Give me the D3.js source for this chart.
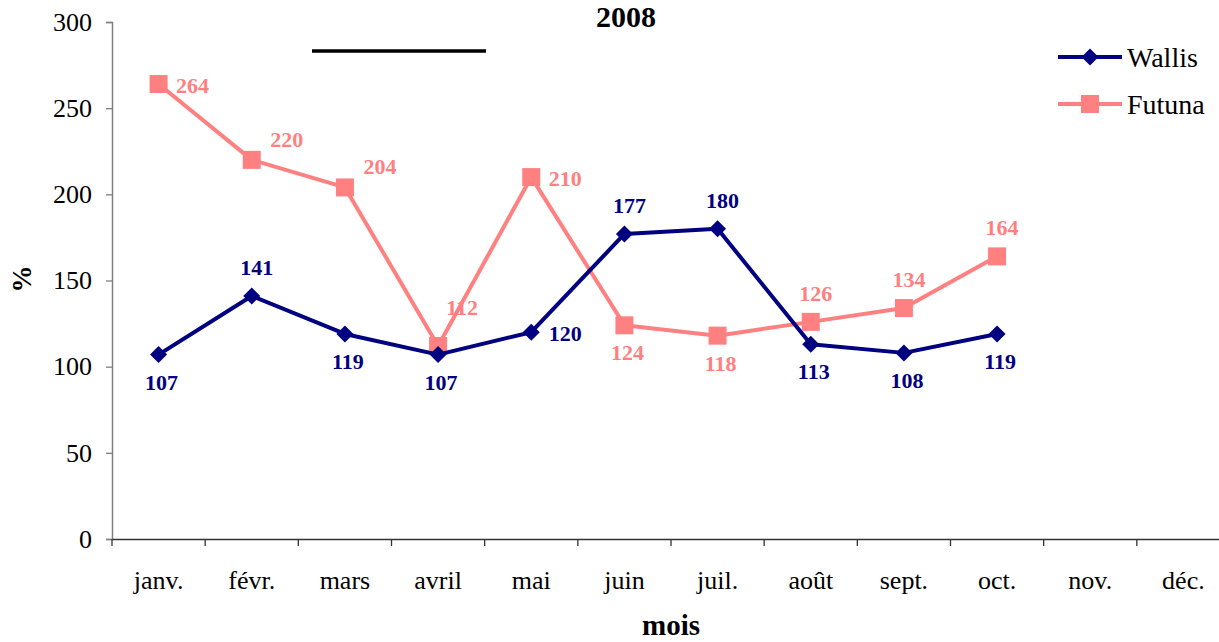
<!DOCTYPE html>
<html><head><meta charset="utf-8">
<script src="https://cdn.jsdelivr.net/npm/d3@7"></script>
<style>body{margin:0;background:#fff;} svg text{font-family:"Liberation Serif","Times New Roman",Times,"DejaVu Serif",serif !important;}</style>
</head><body>
<svg id="c" width="1219" height="642"></svg>
<script>
const months = ["janv.","févr.","mars","avril","mai","juin","juil.","août","sept.","oct.","nov.","déc."];
const wallis = [107,141,119,107,120,177,180,113,108,119];
const futuna = [264,220,204,112,210,124,118,126,134,164];
const wallisLabelPlace = ["below","above","below","below","right","above","above","below","below","below"];
const futunaLabelPlace = ["right","upright","upright","high","right","below","below","above","above","above"];
const yTicks = [0,50,100,150,200,250,300];
const title = "2008";

const FONT = "'Liberation Serif', 'Times New Roman', Times, serif";
const svg = d3.select("#c");
const L = 112, R = 1230, T = 22, B = 539;
const x = d3.scaleBand().domain(months).range([L, R]);
const y = d3.scaleLinear().domain([0,300]).range([B, T]);

// title
svg.append("text").attr("x",626).attr("y",27).attr("text-anchor","middle")
  .attr("font-size",30).attr("font-weight","bold").text(title);
svg.append("line").attr("x1",312).attr("x2",486).attr("y1",51).attr("y2",51)
  .attr("stroke","#000").attr("stroke-width",3.5);

// y axis
const ya = svg.append("g").attr("transform",`translate(${L},0)`)
  .call(d3.axisLeft(y).tickValues(yTicks).tickSize(6).tickPadding(14));
ya.attr("font-family",FONT);
ya.select(".domain").attr("stroke","#7f7f7f").attr("stroke-width",1.5);
ya.selectAll(".tick line").attr("stroke","#7f7f7f").attr("stroke-width",1.3);
ya.selectAll("text").attr("font-size",26).attr("fill","#000");

// x axis
const xa = svg.append("g").attr("transform",`translate(0,${B})`)
  .call(d3.axisBottom(x).tickSize(0).tickSizeOuter(0).tickPadding(32));
xa.attr("font-family",FONT);
xa.select(".domain").attr("stroke","#333").attr("stroke-width",1.3);
xa.selectAll("text").attr("font-size",26).attr("fill","#000");
// category boundary ticks
const bounds = months.map(m => x(m)).concat([x(months[months.length-1]) + x.bandwidth()]);
svg.append("g").selectAll("line").data(bounds).join("line")
  .attr("x1",d=>d).attr("x2",d=>d).attr("y1",B).attr("y2",B+7)
  .attr("stroke","#333").attr("stroke-width",1.3);

// axis titles
svg.append("text").attr("x",671).attr("y",635).attr("text-anchor","middle")
  .attr("font-size",29).attr("font-weight","bold").text("mois");
svg.append("text").attr("transform","translate(31,279) rotate(-90)").attr("text-anchor","middle")
  .attr("font-size",27).attr("font-weight","bold").text("%");

const cx = (i) => x(months[i]) + x.bandwidth()/2;
const WC = "#000080", FC = "#FF8080";
const line = d3.line().x((d,i)=>cx(i)).y(d=>y(d));

function drawSeries(vals, color, marker, places){
  svg.append("path").datum(vals).attr("d",line).attr("fill","none")
    .attr("stroke",color).attr("stroke-width",4).attr("stroke-linejoin","round");
  const g = svg.append("g");
  if (marker === "diamond") {
    g.selectAll("path").data(vals).join("path")
      .attr("d","M0,-8.5L8.5,0L0,8.5L-8.5,0Z")
      .attr("transform",(d,i)=>`translate(${cx(i)},${y(d)})`).attr("fill",color);
  } else {
    g.selectAll("rect").data(vals).join("rect")
      .attr("x",(d,i)=>cx(i)-9).attr("y",d=>y(d)-9).attr("width",18).attr("height",18).attr("fill",color);
  }
  const off = {below:[3,35], above:[5,-21], right:[34,9], upright:[35,-13], high:[24,-31]};
  svg.append("g").selectAll("text").data(vals).join("text")
    .attr("x",(d,i)=>cx(i)+off[places[i]][0])
    .attr("y",(d,i)=>y(d)+off[places[i]][1])
    .attr("text-anchor","middle").attr("font-size",22).attr("font-weight","bold")
    .attr("fill",color).text(d=>d);
}
drawSeries(futuna, FC, "square", futunaLabelPlace);
drawSeries(wallis, WC, "diamond", wallisLabelPlace);

// legend
const leg = [{n:"Wallis",c:WC,m:"diamond",y:57},{n:"Futuna",c:FC,m:"square",y:104}];
leg.forEach(d=>{
  svg.append("line").attr("x1",1058).attr("x2",1122).attr("y1",d.y).attr("y2",d.y)
    .attr("stroke",d.c).attr("stroke-width",4);
  if(d.m==="diamond") svg.append("path").attr("d","M0,-8.5L8.5,0L0,8.5L-8.5,0Z")
    .attr("transform",`translate(1090,${d.y})`).attr("fill",d.c);
  else svg.append("rect").attr("x",1081).attr("y",d.y-9).attr("width",18).attr("height",18).attr("fill",d.c);
  svg.append("text").attr("x",1127).attr("y",d.y+10).attr("font-size",28).text(d.n);
});
</script>
</body></html>
